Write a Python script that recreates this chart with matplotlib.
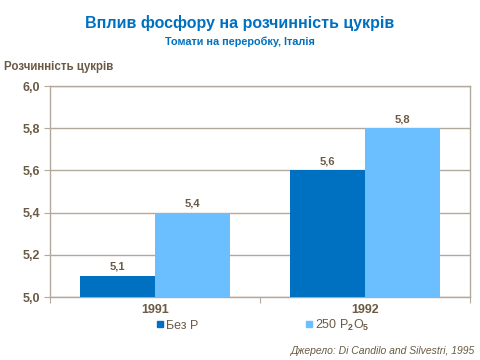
import matplotlib
matplotlib.use("Agg")
import matplotlib.pyplot as plt
import numpy as np
from matplotlib.lines import Line2D

years = ["1991", "1992"]
no_p = [5.1, 5.6]
p250 = [5.4, 5.8]
series_labels = ["Без Р", "250 P$_\\mathbf{2}$O$_\\mathbf{5}$"]
yticks = [5.0, 5.2, 5.4, 5.6, 5.8, 6.0]

plt.rcParams["font.family"] = ["Liberation Sans", "DejaVu Sans"]
plt.rcParams["mathtext.fontset"] = "custom"
plt.rcParams["mathtext.rm"] = "Liberation Sans"
plt.rcParams["mathtext.bf"] = "Liberation Sans:bold"

dark = "#0070C0"
light = "#6BBFFF"
text_c = "#6B5A45"
line_c = "#B3A89C"

fig = plt.figure(figsize=(4.8, 3.6), dpi=100)
ax = fig.add_axes([0.104, 0.175, 0.875, 0.586])

x = np.arange(len(years))
w = 0.357
ax.bar(x - w / 2, no_p, w, color=dark, zorder=3)
ax.bar(x + w / 2, p250, w, color=light, zorder=3)

for xi, v in zip(x - w / 2, no_p):
    ax.text(xi, v + 0.02, f"{v:.1f}".replace(".", ","), ha="center", va="bottom",
            fontsize=8, fontweight="bold", color=text_c)
for xi, v in zip(x + w / 2, p250):
    ax.text(xi, v + 0.02, f"{v:.1f}".replace(".", ","), ha="center", va="bottom",
            fontsize=8, fontweight="bold", color=text_c)

ax.set_ylim(5.0, 6.0)
ax.set_xlim(-0.5, 1.5)
ax.set_yticks(yticks)
ax.set_yticklabels([f"{t:.1f}".replace(".", ",") for t in yticks])
ax.set_xticks([-0.5, 0.5, 1.5])
ax.set_xticklabels([])
ax.set_xticks(x, minor=True)
ax.set_xticklabels(years, minor=True)
ax.tick_params(axis="x", which="minor", length=0, pad=5)
ax.tick_params(axis="x", which="major", length=4, color=line_c)
ax.tick_params(axis="y", length=4, color=line_c, pad=3)
for lab in ax.get_yticklabels() + ax.get_xticklabels(minor=True):
    lab.set_fontsize(9)
    lab.set_fontweight("bold")
    lab.set_color(text_c)
ax.grid(axis="y", color=line_c, linewidth=1, zorder=0)
for s in ax.spines.values():
    s.set_color(line_c)
    s.set_linewidth(1)

fig.text(0.5, 0.935, "Вплив фосфору на розчинність цукрів", ha="center", va="center",
         fontsize=11.5, fontweight="bold", color=dark)
fig.text(0.5, 0.885, "Томати на переробку, Італія", ha="center", va="center",
         fontsize=7.8, fontweight="bold", color=dark)
fig.text(0.008, 0.815, "Розчинність цукрів", ha="left", va="center",
         fontsize=8.3, fontweight="bold", color=text_c)
fig.text(0.99, 0.025, "Джерело: Di Candilo and Silvestri, 1995", ha="right", va="center",
         fontsize=7.5, style="italic", color=text_c)

handles = [Line2D([], [], marker="s", linestyle="", color=dark, markersize=5),
           Line2D([], [], marker="s", linestyle="", color=light, markersize=5)]
leg = fig.legend(handles, series_labels, loc="center", bbox_to_anchor=(0.546, 0.097),
                 ncol=2, frameon=False, handletextpad=0.1, columnspacing=8.4,
                 handlelength=0.8, fontsize=9)
for t in leg.get_texts():
    t.set_color(text_c)

fig.savefig("out.png", dpi=100)
